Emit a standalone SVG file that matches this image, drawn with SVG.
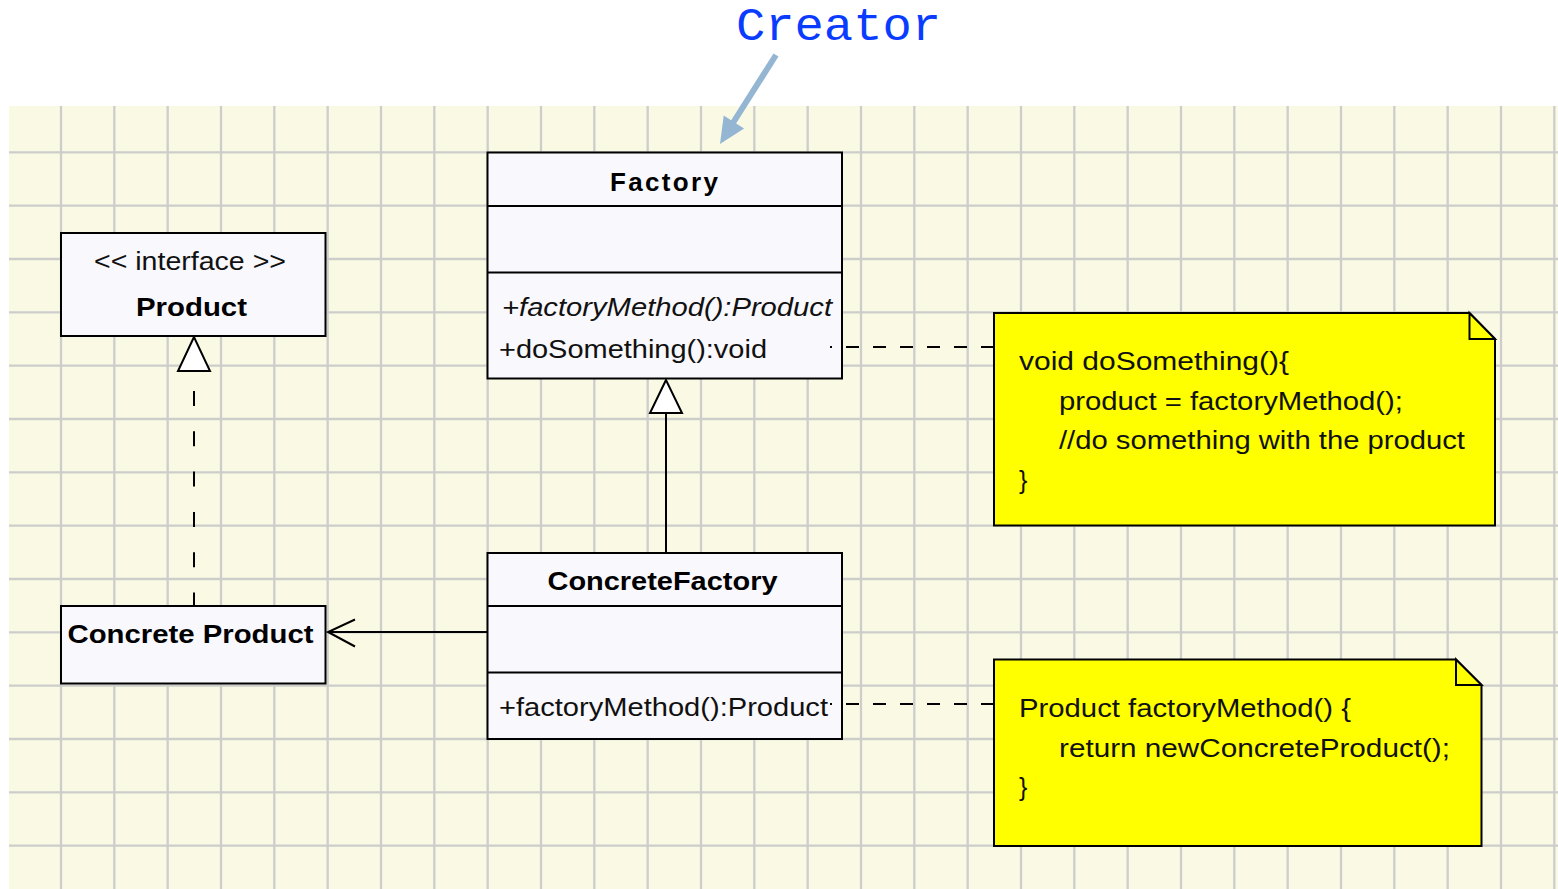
<svg xmlns="http://www.w3.org/2000/svg" width="1558" height="889" viewBox="0 0 1558 889">
  <style>
    .cls { fill: #f9f8fd; stroke: #000; stroke-width: 2; }
    .div { stroke: #000; stroke-width: 2; }
    .note { fill: #ffff00; stroke: #000; stroke-width: 2; stroke-linejoin: miter; }
    .t { font-family: "Liberation Sans", Arial, sans-serif; font-size: 25px; fill: #111; }
    .b { font-weight: bold; font-size: 26px; fill: #000; }
    .i { font-style: italic; }
    .line { stroke: #000; stroke-width: 2; fill: none; }
    .dash { stroke: #000; stroke-width: 2; fill: none; stroke-dasharray: 13 14; }
    .hollow { fill: #fff; stroke: #000; stroke-width: 2; stroke-linejoin: miter; }
  </style>

  <!-- page background and grid -->
  <rect x="0" y="0" width="1558" height="889" fill="#ffffff"/>
  <rect x="9" y="106" width="1549" height="783" fill="#fafae4"/>
  <path id="grid" stroke="#cdcdcb" stroke-width="2.3" fill="none" d="
    M61,106V889 M114.33,106V889 M167.67,106V889 M221,106V889 M274.33,106V889 M327.67,106V889
    M381,106V889 M434.33,106V889 M487.67,106V889 M541,106V889 M594.33,106V889 M647.67,106V889
    M701,106V889 M754.33,106V889 M807.67,106V889 M861,106V889 M914.33,106V889 M967.67,106V889
    M1021,106V889 M1074.33,106V889 M1127.67,106V889 M1181,106V889 M1234.33,106V889 M1287.67,106V889
    M1341,106V889 M1394.33,106V889 M1447.67,106V889 M1501,106V889 M1554.33,106V889
    M9,152.33H1558 M9,205.67H1558 M9,259H1558 M9,312.33H1558 M9,365.67H1558 M9,419H1558
    M9,472.33H1558 M9,525.67H1558 M9,579H1558 M9,632.33H1558 M9,685.67H1558 M9,739H1558
    M9,792.33H1558 M9,845.67H1558"/>

  <!-- callout label -->
  <g id="creator-label">
    <text x="736" y="40" font-family="Liberation Mono, 'Courier New', monospace" font-size="47" fill="#0a3cff" textLength="205" lengthAdjust="spacingAndGlyphs">Creator</text>
    <line x1="776" y1="55" x2="731" y2="126" stroke="#94b6d3" stroke-width="6"/>
    <polygon points="720,144 723.7,115.6 744.1,128.4" fill="#94b6d3"/>
  </g>

  <!-- Product interface -->
  <g id="product">
    <rect class="cls" x="61" y="233" width="264.5" height="103"/>
    <text class="t" x="94" y="270" fill="#333" textLength="192" lengthAdjust="spacingAndGlyphs">&lt;&lt; interface &gt;&gt;</text>
    <text class="t b" x="136" y="316" textLength="111" lengthAdjust="spacingAndGlyphs">Product</text>
  </g>

  <!-- Concrete Product -->
  <g id="concrete-product">
    <rect class="cls" x="61" y="606" width="264.5" height="77.5"/>
    <text class="t b" x="67.5" y="643" textLength="246" lengthAdjust="spacingAndGlyphs">Concrete Product</text>
  </g>

  <!-- Factory -->
  <g id="factory">
    <rect class="cls" x="487.5" y="152.5" width="354.5" height="226"/>
    <line class="div" x1="487.5" y1="206" x2="842" y2="206"/>
    <line class="div" x1="487.5" y1="272.5" x2="842" y2="272.5"/>
    <text class="t b" x="610" y="191" textLength="108" lengthAdjust="spacing">Factory</text>
    <text class="t i" x="502" y="316" textLength="330" lengthAdjust="spacingAndGlyphs">+factoryMethod():Product</text>
    <text class="t" x="499" y="357.5" textLength="268" lengthAdjust="spacingAndGlyphs">+doSomething():void</text>
  </g>

  <!-- ConcreteFactory -->
  <g id="concrete-factory">
    <rect class="cls" x="487.5" y="553" width="354.5" height="186"/>
    <line class="div" x1="487.5" y1="606" x2="842" y2="606"/>
    <line class="div" x1="487.5" y1="672.5" x2="842" y2="672.5"/>
    <text class="t b" x="547.5" y="590" textLength="230" lengthAdjust="spacingAndGlyphs">ConcreteFactory</text>
    <text class="t" x="499" y="716" textLength="329" lengthAdjust="spacingAndGlyphs">+factoryMethod():Product</text>
  </g>

  <!-- note: doSomething -->
  <g id="note-dosomething">
    <path class="note" d="M994,313 H1469.5 L1495,339 V525.5 H994 Z"/>
    <path class="note" d="M1469.5,313 V339 H1495 Z"/>
    <text class="t" x="1019" y="370" textLength="270" lengthAdjust="spacingAndGlyphs">void doSomething(){</text>
    <text class="t" x="1059" y="409.5" textLength="344" lengthAdjust="spacingAndGlyphs">product = factoryMethod();</text>
    <text class="t" x="1059" y="449" textLength="406" lengthAdjust="spacingAndGlyphs">//do something with the product</text>
    <text class="t" x="1019" y="488.5">}</text>
  </g>

  <!-- note: factoryMethod -->
  <g id="note-factorymethod">
    <path class="note" d="M994,659.5 H1456 L1481.5,685 V846 H994 Z"/>
    <path class="note" d="M1456,659.5 V685 H1481.5 Z"/>
    <text class="t" x="1019" y="716.5" textLength="332" lengthAdjust="spacingAndGlyphs">Product factoryMethod() {</text>
    <text class="t" x="1059" y="756.5" textLength="391" lengthAdjust="spacingAndGlyphs">return newConcreteProduct();</text>
    <text class="t" x="1019" y="796">}</text>
  </g>

  <!-- connectors (drawn over the boxes) -->
  <g id="connectors">
    <!-- generalization ConcreteFactory -> Factory -->
    <line class="line" x1="666" y1="413" x2="666" y2="553"/>
    <polygon class="hollow" points="666,380 650,413 682,413"/>
    <!-- realization Concrete Product -> Product -->
    <line class="line" x1="194" y1="391" x2="194" y2="607" stroke-dasharray="15 25.3"/>
    <polygon class="hollow" points="194,337 178,371 210,371"/>
    <!-- association ConcreteFactory -> Concrete Product -->
    <line class="line" x1="487" y1="632" x2="328" y2="632"/>
    <polyline class="line" points="355,619.5 328,632 355,646.5"/>
    <!-- note anchors -->
    <line class="dash" x1="994" y1="347" x2="830" y2="347"/>
    <line class="dash" x1="994" y1="704" x2="830" y2="704"/>
  </g>
</svg>
